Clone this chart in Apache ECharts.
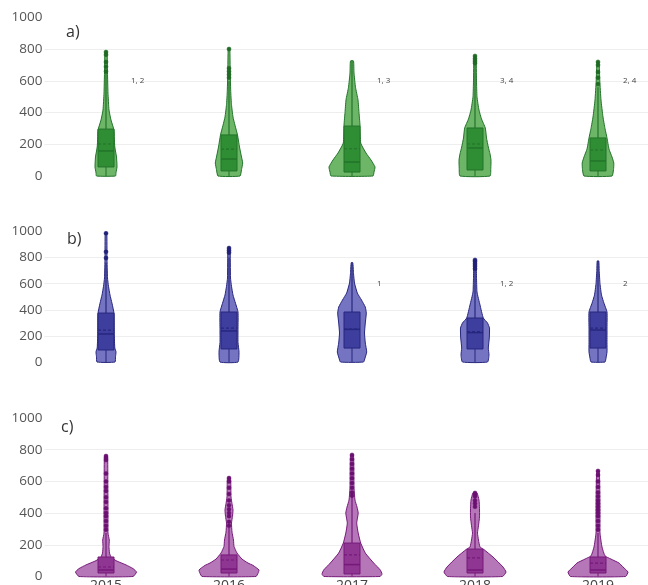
<!DOCTYPE html>
<html>
<head>
<meta charset="utf-8">
<script src="https://cdn.jsdelivr.net/npm/echarts@6/dist/echarts.min.js"></script>
<style>
html,body{margin:0;padding:0;background:#fff;}
#chart{width:648px;height:585px;}
</style>
</head>
<body>
<div id="chart"></div>
<script>
// ---------- DATA ----------
const YEARS = ['2015', '2016', '2017', '2018', '2019'];
const Y_TICKS = [0, 200, 400, 600, 800, 1000];
const PANEL_LABELS = ['a)', 'b)', 'c)'];

// Violin density profiles: [value, relative density]
const A_DENSITY = [
  [[0,9.5],[20,10],[57,11],[120,10.5],[183,8.8],[240,8.3],[290,8],[353,5],[416,3],[523,2],[650,1.5],[782,1]],
  [[0,11],[40,12.5],[82,13.7],[120,12.5],[183,10.5],[259,8.5],[320,6],[372,4],[450,2.5],[523,1.8],[650,1.2],[801,0.8]],
  [[0,21],[25,22],[57,23],[101,19],[145,14],[208,8.7],[322,8],[400,7],[480,6],[560,3.5],[650,2],[726,1.5]],
  [[0,15],[50,15.8],[100,16],[140,15],[183,13.3],[240,11.5],[303,10.3],[360,6.5],[416,4],[500,2],[600,1.5],[757,1]],
  [[0,14],[40,15.5],[82,15.8],[120,14],[170,11],[240,9],[300,7],[372,5],[480,3],[600,1.8],[720,1]]
];
const B_DENSITY = [
  [[0,9],[40,9.5],[77,10],[110,8.8],[200,8.3],[300,8.2],[375,8],[450,6],[513,4],[580,2.5],[644,1.5],[800,1],[986,0.8]],
  [[0,9],[77,10],[150,9],[260,9],[383,9],[450,6.5],[513,4],[580,2.5],[644,1.5],[873,1]],
  [[0,11.5],[30,13],[77,14.7],[146,13.3],[222,12.5],[299,13.3],[375,14.3],[421,13.3],[475,9.5],[529,5.3],[605,2.5],[680,1.5],[761,0.8]],
  [[0,12.5],[54,14],[107,13.3],[184,14.3],[260,14.5],[299,12.5],[337,8.3],[437,5],[536,2],[650,1.5],[782,1]],
  [[0,7],[30,8],[77,9],[150,9],[260,9],[383,9],[450,6],[513,3.5],[600,2],[700,1.2],[774,0.8]]
];
const C_DENSITY = [
  [[0,27],[28,30.5],[50,27],[73,20],[100,10],[123,5],[148,3.5],[190,3],[230,3.3],[274,2],[400,2],[600,1.8],[760,1.5]],
  [[0,27],[20,29],[41,30],[70,24],[85,19],[110,13],[148,8],[190,5],[230,4.5],[280,3],[337,2.5],[380,3.5],[420,4],[460,3],[502,2],[621,1.5]],
  [[0,28],[15,30],[41,28.3],[85,21.7],[148,13.3],[211,8.7],[274,6.2],[337,4.7],[400,6.2],[438,5],[482,3],[560,2],[767,1.5]],
  [[0,27.5],[28,31],[60,28],[123,18],[173,8.3],[186,5],[230,3.5],[274,2.5],[320,3.5],[376,4.5],[430,4.5],[482,4],[527,2]],
  [[0,27.5],[28,30],[60,25],[85,21],[110,13],[130,7],[186,4],[274,2],[400,2],[550,1.8],[666,1.2]]
];

// Box stats: [low whisker, q1, median, q3, high whisker, mean]
const A_BOX = [
  [0, 57, 158, 296, 650, 202],
  [0, 32, 107, 259, 600, 170],
  [0, 25, 88, 315, 726, 172],
  [0, 38, 177, 303, 700, 202],
  [0, 32, 95, 240, 560, 164]
];
const B_BOX = [
  [0, 92, 215, 375, 760, 245],
  [0, 100, 238, 383, 800, 260],
  [0, 107, 250, 383, 761, 253],
  [0, 100, 225, 337, 700, 232],
  [0, 107, 245, 383, 774, 260]
];
const C_BOX = [
  [0, 22, 41, 123, 274, 60],
  [0, 22, 47, 136, 307, 104],
  [0, 16, 75, 211, 503, 136],
  [0, 22, 41, 173, 400, 117],
  [0, 22, 41, 123, 274, 85]
];

// Outlier points
const A_OUTLIERS = [
  [782, 765, 720, 690, 660],
  [801, 680, 660, 640, 620],
  [],
  [757, 740, 725, 712],
  [720, 700, 656, 620, 580]
];
const B_OUTLIERS = [
  [986, 845, 797],
  [873, 855, 838],
  [],
  [782, 770, 752, 735, 715],
  []
];
const C_OUTLIERS = [
  [760, 748, 735, 650, 600, 565, 540, 500, 470, 430, 400, 380, 350, 320, 295],
  [621, 600, 560, 520, 480, 450, 425, 400, 380, 345, 320],
  [767, 740, 710, 680, 650, 620, 590, 560, 530, 510],
  [527, 518, 505, 480, 460, 440],
  [666, 640, 600, 565, 530, 505, 480, 460, 440, 420, 400, 380, 350, 320, 295]
];

// Significance annotations (placed at value 600)
const A_NOTES = ['1, 2', '', '1, 3', '3, 4', '2, 4'];
const B_NOTES = ['', '', '1', '1, 2', '2'];
const C_NOTES = ['', '', '', '', ''];
const NOTE_VALUE = 600;

// ---------- STYLE ----------
const PALETTES = [
  { fill: '#6db567', box: '#2f8d33', line: '#22742a', dot: '#1f6a24' },
  { fill: '#7474c2', box: '#3e3e9e', line: '#27277f', dot: '#202078' },
  { fill: '#b677b9', box: '#8f3592', line: '#761a79', dot: '#6a1070' }
];
const GRIDS = [
  { top: 17.5, height: 158.5 },
  { top: 231.5, height: 130.5 },
  { top: 418, height: 158.5 }
];
const DENS_PX = 1;     // px per density unit (half-width)
const BOX_HALF = 8;
const FONT = '"Open Sans", "DejaVu Sans", sans-serif';

function violinSeries(g, dens, boxes, outliers, notes, pal) {
  return {
    type: 'custom',
    xAxisIndex: g, yAxisIndex: g,
    data: YEARS.map((y, i) => [i]),
    clip: false,
    silent: true,
    renderItem: function (params, api) {
      const i = api.value(0);
      const cx = api.coord([i, 0])[0];
      const yOf = v => api.coord([i, v])[1];
      const prof = dens[i];
      const right = prof.map(p => [cx + p[1] * DENS_PX, yOf(p[0])]);
      const left = prof.slice().reverse().map(p => [cx - p[1] * DENS_PX, yOf(p[0])]);
      const b = boxes[i];
      const children = [];
      children.push({
        type: 'polygon',
        shape: { points: right.concat(left), smooth: 0.15 },
        style: { fill: pal.fill, stroke: pal.line, lineWidth: 1 }
      });
      // whiskers
      children.push({ type: 'line', shape: { x1: cx, y1: yOf(b[0]), x2: cx, y2: yOf(b[1]) },
        style: { stroke: pal.line, lineWidth: 1 } });
      children.push({ type: 'line', shape: { x1: cx, y1: yOf(b[3]), x2: cx, y2: yOf(b[4]) },
        style: { stroke: pal.line, lineWidth: 1.2 } });
      // box
      children.push({ type: 'rect',
        shape: { x: cx - BOX_HALF, y: yOf(b[3]), width: BOX_HALF * 2, height: yOf(b[1]) - yOf(b[3]) },
        style: { fill: pal.box, stroke: pal.line, lineWidth: 1 } });
      // median
      children.push({ type: 'line', shape: { x1: cx - BOX_HALF, y1: yOf(b[2]), x2: cx + BOX_HALF, y2: yOf(b[2]) },
        style: { stroke: pal.line, lineWidth: 1.5 } });
      // mean (dashed)
      children.push({ type: 'line', shape: { x1: cx - BOX_HALF, y1: yOf(b[5]), x2: cx + BOX_HALF, y2: yOf(b[5]) },
        style: { stroke: pal.line, lineWidth: 1.2, lineDash: [3, 2] } });
      // outliers
      outliers[i].forEach(v => {
        children.push({ type: 'circle', shape: { cx: cx, cy: yOf(v), r: 2 },
          style: { fill: pal.dot, stroke: pal.dot, lineWidth: 0.5 } });
      });
      if (notes[i]) {
        children.push({ type: 'text',
          style: { text: notes[i], x: cx + 25, y: yOf(NOTE_VALUE), fill: '#444',
            font: '8px ' + FONT, align: 'left', verticalAlign: 'middle' } });
      }
      return { type: 'group', children: children };
    }
  };
}

const chart = echarts.init(document.getElementById('chart'), null, { renderer: 'canvas' });
const option = {
  animation: false,
  backgroundColor: '#fff',
  title: [
    { text: PANEL_LABELS[0], left: 66, top: 24 },
    { text: PANEL_LABELS[1], left: 67, top: 231 },
    { text: PANEL_LABELS[2], left: 61, top: 419 }
  ].map(t => Object.assign(t, { padding: 0, textStyle: { fontSize: 16, fontWeight: 'normal', color: '#333', fontFamily: FONT } })),
  grid: GRIDS.map(g => ({ left: 44.5, width: 615, top: g.top, height: g.height, outerBoundsMode: 'none', containLabel: false })),
  xAxis: GRIDS.map((g, k) => ({
    type: 'category', gridIndex: k, data: YEARS, boundaryGap: true,
    axisLine: { show: false }, axisTick: { show: false }, splitLine: { show: false },
    axisLabel: { show: k === 2, fontSize: 14, color: '#444', margin: 3, fontFamily: FONT }
  })),
  yAxis: GRIDS.map((g, k) => ({
    type: 'value', gridIndex: k, min: Y_TICKS[0], max: Y_TICKS[Y_TICKS.length - 1], interval: 200,
    axisLine: { show: false }, axisTick: { show: false },
    axisLabel: { fontSize: 13.5, color: '#555', margin: 2, fontFamily: FONT, formatter: v => String(v) },
    splitLine: { show: true, lineStyle: { color: ['transparent', '#eeeeee', '#eeeeee', '#eeeeee', '#eeeeee', 'transparent'], width: 1 } }
  })),
  series: [
    violinSeries(0, A_DENSITY, A_BOX, A_OUTLIERS, A_NOTES, PALETTES[0]),
    violinSeries(1, B_DENSITY, B_BOX, B_OUTLIERS, B_NOTES, PALETTES[1]),
    violinSeries(2, C_DENSITY, C_BOX, C_OUTLIERS, C_NOTES, PALETTES[2])
  ]
};
chart.setOption(option);
</script>
</body>
</html>
